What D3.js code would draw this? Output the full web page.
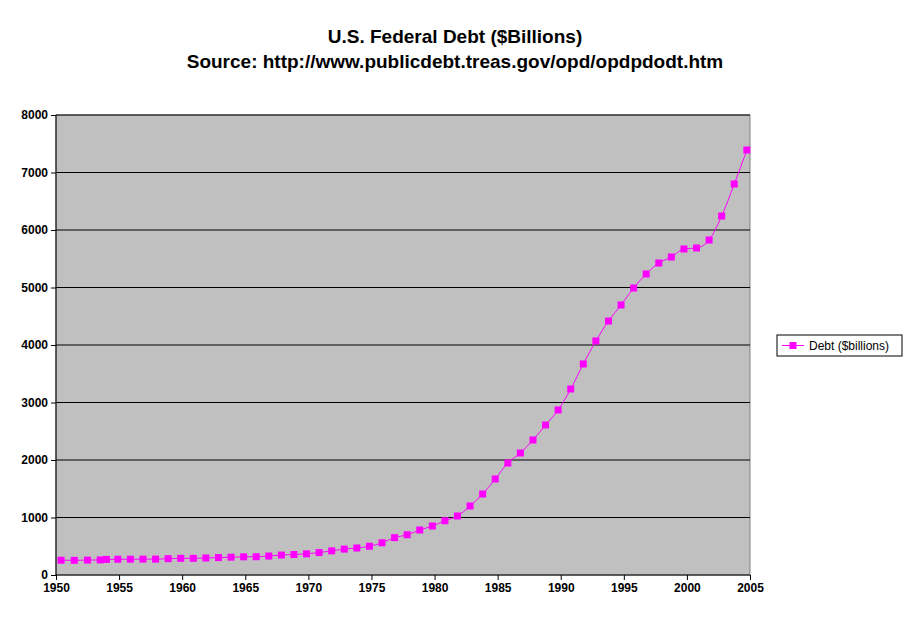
<!DOCTYPE html>
<html><head><meta charset="utf-8">
<script src="https://cdn.jsdelivr.net/npm/d3@7"></script>
<style>body{margin:0;background:#fff}</style></head>
<body><svg id="c" width="911" height="621"></svg>
<script>
const years = [1950.4,1951.45,1952.5,1953.5,1954.0];
for (let i = 0; i < 51; i++) years.push(+(1954.9 + i * 0.997).toFixed(3));
const debt = [257,255,259,262,271,274,275,276,276,284,290,290,296,303,310,316,318,330,347,356,368,390,420,450,470,500,560,650,700,
  783,852,944,1026,1200,1409,1670,1948,2122,2348,2609,2870,3235,3670,4070,4417,4696,4991,5235,5426,5530,5670,5687,5826,6243,6800,7391];
const xTicks = [1950,1955,1960,1965,1970,1975,1980,1985,1990,1995,2000,2005];
const yTicks = [0,1000,2000,3000,4000,5000,6000,7000,8000];
const seriesName = "Debt ($billions)";

const svg = d3.select("#c");
const L = 56, R = 750, T = 115, B = 575;
const x = d3.scaleLinear().domain([1950, 2005]).range([L, R]);
const y = d3.scaleLinear().domain([0, 8000]).range([B, T]);
svg.append("rect").attr("x", L).attr("y", T).attr("width", R - L).attr("height", B - T)
  .attr("fill", "#c0c0c0").attr("stroke", "#808080");
svg.append("g").selectAll("line").data(yTicks.slice(1)).join("line")
  .attr("x1", L).attr("x2", R).attr("y1", d => y(d)).attr("y2", d => y(d)).attr("stroke", "#000");
const font = "Arial, 'Liberation Sans', sans-serif";
const gx = svg.append("g").attr("transform", `translate(0,${B})`)
  .call(d3.axisBottom(x).tickValues(xTicks).tickFormat(d3.format("d")).tickSize(5));
const gy = svg.append("g").attr("transform", `translate(${L},0)`)
  .call(d3.axisLeft(y).tickValues(yTicks).tickFormat(d3.format("d")).tickSize(5));
[gx, gy].forEach(g => {
  g.selectAll("path,line").attr("stroke", "#000");
  g.selectAll("text").attr("font-family", font).attr("font-size", 12).attr("font-weight", "bold").attr("fill", "#000");
});
gx.select(".domain").attr("d", `M${L},0H${R}`);
gy.select(".domain").attr("d", `M0,${T}V${B}`);
const pts = years.map((yr, i) => [yr, debt[i]]);
svg.append("path").datum(pts).attr("fill", "none").attr("stroke", "#ff00ff").attr("stroke-width", 1)
  .attr("d", d3.line().x(d => x(d[0])).y(d => y(d[1])).curve(d3.curveMonotoneX));
svg.append("g").selectAll("rect").data(pts).join("rect")
  .attr("x", d => x(d[0]) - 3.5).attr("y", d => y(d[1]) - 3.5).attr("width", 7).attr("height", 7).attr("fill", "#ff00ff");
svg.append("text").attr("x", 455).attr("y", 43).attr("text-anchor", "middle").attr("font-family", font)
  .attr("font-size", 19).attr("font-weight", "bold").text("U.S. Federal Debt ($Billions)");
svg.append("text").attr("x", 455).attr("y", 68).attr("text-anchor", "middle").attr("font-family", font)
  .attr("font-size", 19).attr("font-weight", "bold").text("Source: http://www.publicdebt.treas.gov/opd/opdpdodt.htm");
const lg = svg.append("g").attr("transform", "translate(777,335)");
lg.append("rect").attr("width", 125).attr("height", 21).attr("fill", "#fff").attr("stroke", "#000");
lg.append("line").attr("x1", 5).attr("x2", 27).attr("y1", 10.5).attr("y2", 10.5).attr("stroke", "#ff00ff");
lg.append("rect").attr("x", 12.5).attr("y", 7).attr("width", 7).attr("height", 7).attr("fill", "#ff00ff");
lg.append("text").attr("x", 32).attr("y", 15).attr("font-family", font).attr("font-size", 12).text(seriesName);
</script></body></html>
